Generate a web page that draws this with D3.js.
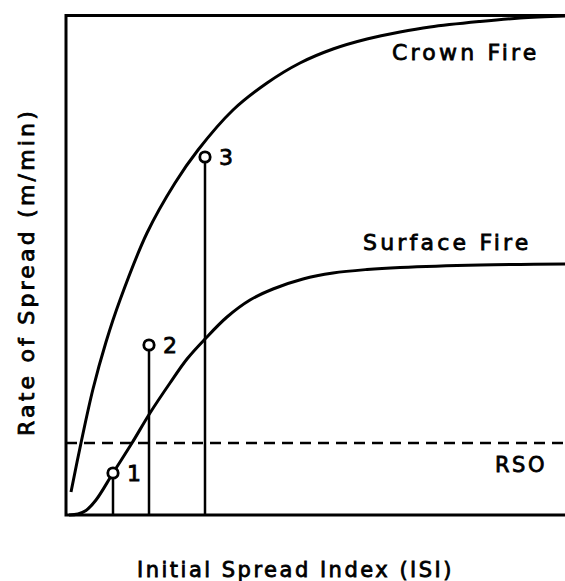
<!DOCTYPE html>
<html>
<head>
<meta charset="utf-8">
<script src="https://cdn.jsdelivr.net/npm/d3@7"></script>
<style>
  body { margin: 0; background: #fff; }
  svg { display: block; }
  .lbl { font-family: "DejaVu Sans", sans-serif; font-size: 21px; letter-spacing: 2.5px;
         fill: #000; stroke: #000; stroke-width: 0.8px; }
  .big { font-size: 22px; letter-spacing: 3.2px; }
</style>
</head>
<body>
<svg id="chart" width="565" height="581"></svg>
<script>
// values (ISI and rate of spread, arbitrary units, no ticks shown)
var crownIsi = [0.5, 1.5, 2.7, 4.0, 5.4, 8.1, 10.9, 13.2, 16.7, 20.1, 23.4, 26.7, 30.1, 33.4, 36.4, 41.4, 45.4, 49.9];
var crownRos = [2.3, 7.2, 12.6, 17.3, 21.5, 28.2, 33.2, 36.5, 40.5, 43.2, 45.2, 46.6, 47.6, 48.3, 48.8, 49.35, 49.7, 49.9];

var surfIsi = [0.3, 1.2, 2.0, 3.0, 4.7, 6.6, 8.4, 10.4, 12.1, 13.9, 16.1, 18.4, 20.7, 23.7, 26.7, 30.1, 33.4, 41.4, 49.9];
var surfRos = [0.0, 0.1, 0.45, 1.5, 4.2, 7.2, 10.2, 13.2, 15.6, 17.6, 19.8, 21.5, 22.6, 23.6, 24.2, 24.55, 24.75, 25.0, 25.1];

var pointIsi = [4.7, 8.3, 13.9];
var pointRos = [4.2, 17.0, 35.8];
var pointNames = ["1", "2", "3"];

var rso = 7.2;

var curveNames = ["Crown Fire", "Surface Fire"];
var rsoName = "RSO";
var xTitle = "Initial Spread Index (ISI)";
var yTitle = "Rate of Spread (m/min)";

var svg = d3.select("#chart");

var x = d3.scaleLinear().domain([0, 50]).range([66, 566]);
var y = d3.scaleLinear().domain([0, 50]).range([515, 15]);

var line = d3.line()
    .x(function(d) { return x(d[0]); })
    .y(function(d) { return y(d[1]); })
    .curve(d3.curveCatmullRom.alpha(0.5));

// frame: left, top, bottom
svg.append("path")
    .attr("d", "M" + x.range()[1] + "," + (y(50) + 0.5) + "H" + x(0) + "V" + y(0) + "H" + x.range()[1])
    .attr("fill", "none")
    .attr("stroke", "#000")
    .attr("stroke-width", 3);

// RSO threshold
svg.append("line")
    .attr("x1", x(0)).attr("x2", x.range()[1])
    .attr("y1", y(rso)).attr("y2", y(rso))
    .attr("stroke", "#000")
    .attr("stroke-width", 2.6)
    .attr("stroke-dasharray", "11,7");

svg.append("path")
    .datum(d3.zip(crownIsi, crownRos))
    .attr("d", line)
    .attr("fill", "none")
    .attr("stroke", "#000")
    .attr("stroke-width", 3);

svg.append("path")
    .datum(d3.zip(surfIsi, surfRos))
    .attr("d", line)
    .attr("fill", "none")
    .attr("stroke", "#000")
    .attr("stroke-width", 3);

var pts = d3.zip(pointIsi, pointRos, pointNames);

svg.selectAll(".stem")
  .data(pts)
  .enter().append("line")
    .attr("class", "stem")
    .attr("x1", function(d) { return x(d[0]); })
    .attr("x2", function(d) { return x(d[0]); })
    .attr("y1", function(d) { return y(d[1]) + 5; })
    .attr("y2", y(0))
    .attr("stroke", "#000")
    .attr("stroke-width", 2.5);

svg.selectAll(".pt")
  .data(pts)
  .enter().append("circle")
    .attr("class", "pt")
    .attr("cx", function(d) { return x(d[0]); })
    .attr("cy", function(d) { return y(d[1]); })
    .attr("r", 5.2)
    .attr("fill", "#fff")
    .attr("stroke", "#000")
    .attr("stroke-width", 2.8);

svg.selectAll(".ptlbl")
  .data(pts)
  .enter().append("text")
    .attr("class", "lbl big")
    .attr("x", function(d) { return x(d[0]) + 14; })
    .attr("y", function(d) { return y(d[1]) + 8; })
    .text(function(d) { return d[2]; });

svg.append("text").attr("class", "lbl big")
    .attr("x", 392).attr("y", 60)
    .text(curveNames[0]);

svg.append("text").attr("class", "lbl big")
    .attr("x", 363).attr("y", 250)
    .text(curveNames[1]);

svg.append("text").attr("class", "lbl")
    .attr("x", 495).attr("y", 472)
    .text(rsoName);

svg.append("text").attr("class", "lbl")
    .attr("x", 137).attr("y", 577)
    .text(xTitle);

svg.append("text").attr("class", "lbl big")
    .attr("transform", "translate(34,272) rotate(-90)")
    .attr("text-anchor", "middle")
    .text(yTitle);
</script>
</body>
</html>
